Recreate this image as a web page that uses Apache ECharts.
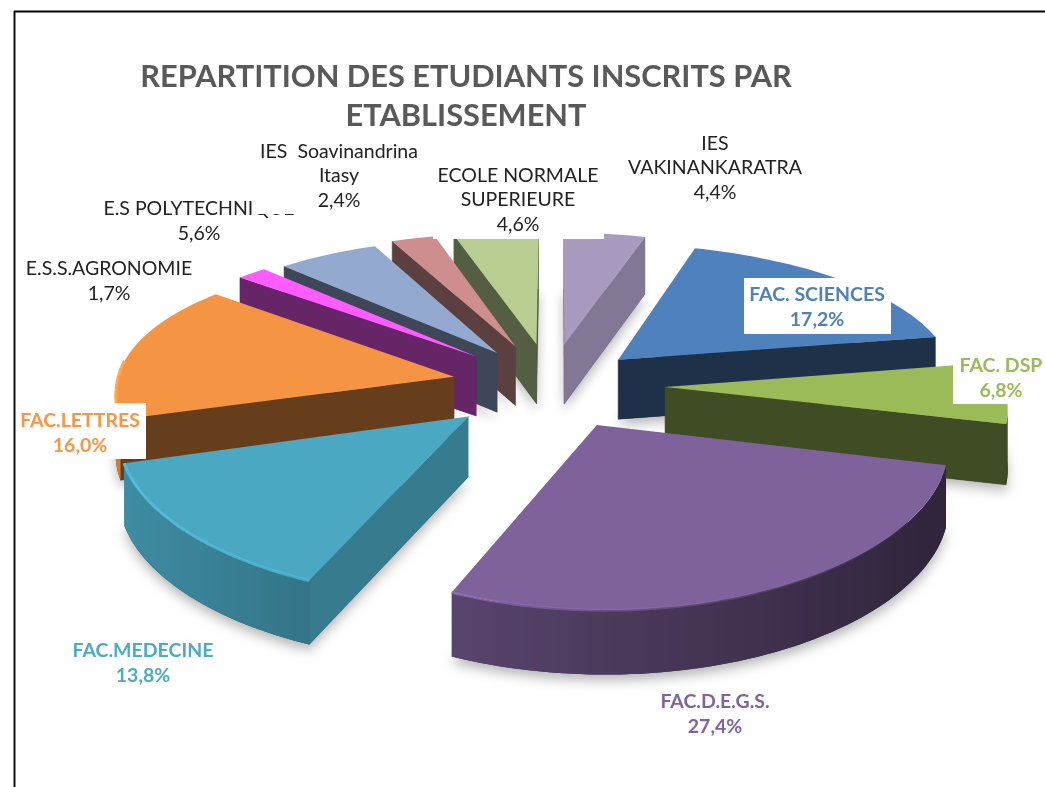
<!DOCTYPE html>
<html><head><meta charset="utf-8">
<style>html,body{margin:0;padding:0;background:#fff}#c{width:1045px;height:787px}</style>
<script src="https://cdn.jsdelivr.net/npm/echarts@6/dist/echarts.min.js"></script>
</head><body><div id="c"></div>
<script>
// ---- data ----
const categories = ['FAC. SCIENCES','FAC. DSP','FAC.D.E.G.S.','FAC.MEDECINE','FAC.LETTRES','E.S.S.AGRONOMIE','E.S POLYTECHNIQUE','IES  Soavinandrina\nItasy','ECOLE NORMALE\nSUPERIEURE','IES\nVAKINANKARATRA'];
const values = [17.2,6.8,27.4,13.8,16.0,1.7,5.6,2.4,4.6,4.4];
const colors = ['#4f81bd','#9bbb59','#7f619c','#4aa8c3','#f59443','#ff5cff','#93a9cf','#cd8e8d','#b9cd90','#a99bc0'];
const cutShade = [0.38,0.41,0.4,0.73,0.42,0.4,0.42,0.45,0.46,0.77];
const explodeBy = [0.28,0.34,0.3,0.32,0.29,0.3,0.28,0.3,0.3,0.3];
const title = 'REPARTITION DES ETUDIANTS INSCRITS PAR\nETABLISSEMENT';

// ---- layout ----
const cx=550, cy=385, Rx=338, Ry=142, perspX=0.11, perspY=0.157, shear=10, depth=60, startDeg=18;
const total = values.reduce((a,b)=>a+b,0);
const rad = d=>d*Math.PI/180;
const project=(X,Y)=>{const sx=1/(1+perspX*Y),sy=1/(1+perspY*Y);
  return {x:cx+Rx*sx*X-shear*(Y>0?Y:0.3*Y),y:cy-Ry*sy*Y,s:1+(sy-1)*0.3};};
const hex=c=>[1,3,5].map(i=>parseInt(c.substr(i,2),16));
const shade=(c,f)=>'rgb('+hex(c).map(v=>Math.min(255,Math.round(v*f))).join(',')+')';
const starts=[];values.reduce((acc,v,i)=>{starts[i]=acc;return acc+v;},0);
const midDeg=i=>startDeg+(starts[i]+values[i]/2)/total*360;
const order=categories.map((_,i)=>i).sort((a,b)=>Math.cos(rad(midDeg(b)))-Math.cos(rad(midDeg(a))));

function renderItem(params,api){
  const i=api.value(0), v=api.value(1);
  const a0=startDeg+starts[i]/total*360, a1=a0+v/total*360, m=(a0+a1)/2, e=explodeBy[i];
  const ox=e*Math.sin(rad(m)), oy=e*Math.cos(rad(m));
  const rim=[];const n=Math.max(3,Math.ceil((a1-a0)/1.5));
  for(let j=0;j<=n;j++){const t=a0+(a1-a0)*j/n;rim.push({t,p:project(ox+Math.sin(rad(t)),oy+Math.cos(rad(t)))});}
  const apex=project(ox,oy), base=colors[i];
  const low=p=>[p.x,p.y+depth*p.s], up=p=>[p.x,p.y];
  const area=q=>{let s=0;q.forEach((a,k)=>{const b=q[(k+1)%q.length];s+=a[0]*b[1]-b[0]*a[1];});return s/2;};
  const kids=[];
  kids.push({type:'polygon',shape:{points:[low(apex),...rim.map(r=>low(r.p))]},
    style:{fill:shade(base,0.4),shadowBlur:12,shadowOffsetY:6,shadowColor:'rgba(0,0,0,0.28)'}});
  const quad=(a,b,fill)=>{const q=[up(a),up(b),low(b),low(a)];
    if(area(q)<0)kids.push({type:'polygon',shape:{points:q},style:{fill,stroke:fill,lineWidth:0.5}});};
  quad(apex,rim[0].p,shade(base,cutShade[i]));
  quad(rim[n].p,apex,shade(base,cutShade[i]));
  // outer wall as one polygon with a left-to-right gradient
  const vis=[];
  for(let j=0;j<n;j++){
    const q=[up(rim[j].p),up(rim[j+1].p),low(rim[j+1].p),low(rim[j].p)];
    if(area(q)<0)vis.push(j);
  }
  if(vis.length){
    const idx=[...vis,vis[vis.length-1]+1];
    const pts=idx.map(j=>up(rim[j].p)).concat(idx.slice().reverse().map(j=>low(rim[j].p)));
    const xs=idx.map(j=>rim[j].p.x), xmin=Math.min(...xs), xmax=Math.max(...xs);
    const stops=idx.map(j=>({offset:xmax>xmin?(rim[j].p.x-xmin)/(xmax-xmin):0,
      color:shade(base,Math.max(0.38,0.6-0.25*Math.sin(rad(rim[j].t))))})).sort((p,q)=>p.offset-q.offset);
    const fill={type:'linear',x:xmin,y:0,x2:xmax,y2:0,global:true,colorStops:stops};
    kids.push({type:'polygon',shape:{points:pts},style:{fill}});
  }
  kids.push({type:'polygon',shape:{points:[up(apex),...rim.map(r=>up(r.p))]},style:{fill:base}});
  // bevel on the front rim
  for(let j=0;j<n;j++){
    const o=0.5-0.55*Math.sin(rad(rim[j].t));
    if(Math.cos(rad(rim[j].t))<0.1 && o>0)
      kids.push({type:'polyline',shape:{points:[up(rim[j].p),up(rim[j+1].p)]},
        style:{stroke:shade(base,1.12),lineWidth:3,opacity:Math.min(1,o),fill:null}});
  }
  return {type:'group',children:kids};
}

// ---- labels ----
const labelPos=[[817,307],[1001,378],[715,714],[143,663],[80,433],[109,281],[199,221],[339,176],[518,200],[715,168]];
const labelBold=[1,1,1,1,1,0,0,0,0,0];
const labelColor=['#4f81bd','#9bbb59','#8064a2','#4bacc6','#f79646','#222','#222','#222','#222','#222'];
const pct=v=>v.toFixed(1).replace('.',',')+'%';
const boxes=[[744,278,147,56],[953,350,92,54],[16,403,130,56],[252,138,174,76],[433,160,171,79]];
const graphics=[];
boxes.forEach((b,k)=>graphics.push({type:'rect',z:k>=3?12:9,shape:{x:b[0],y:b[1],width:b[2],height:b[3]},style:{fill:'#fff'},silent:true}));
categories.forEach((c,i)=>graphics.push({type:'text',z:i===6?11:13,silent:true,style:{
  text:c+'\n'+pct(values[i]),x:labelPos[i][0],y:labelPos[i][1],align:'center',verticalAlign:'middle',lineHeight:24.6,
  font:(labelBold[i]?'bold ':'')+'19.5px Lato, Carlito, sans-serif',fill:labelColor[i]}}));
graphics.push({type:'line',z:20,silent:true,shape:{x1:14,y1:11.5,x2:1045,y2:11.5},style:{stroke:'#000',lineWidth:2}});
graphics.push({type:'line',z:20,silent:true,shape:{x1:14.5,y1:11,x2:14.5,y2:787},style:{stroke:'#111',lineWidth:2}});

const chart=echarts.init(document.getElementById('c'),null,{renderer:'canvas'});
chart.setOption({
  animation:false,backgroundColor:'#fff',
  title:{text:title,left:461,top:53,textAlign:'center',
    textStyle:{fontFamily:'Lato, Carlito, sans-serif',fontSize:30.75,fontWeight:'bold',color:'#595959',lineHeight:39}},
  graphic:graphics,
  series:[{type:'custom',coordinateSystem:'none',renderItem,silent:true,z:2,
    data:order.map(i=>[i,values[i]])}]
});
</script></body></html>
